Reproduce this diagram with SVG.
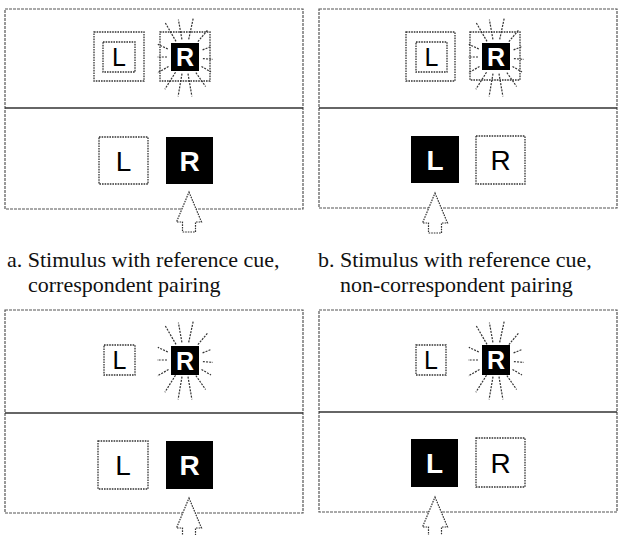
<svg xmlns="http://www.w3.org/2000/svg" xmlns:xlink="http://www.w3.org/1999/xlink" width="618" height="535" viewBox="0 0 618 535">
  <style>
    .frame { fill: none; stroke: #555; stroke-width: 1.2; stroke-dasharray: 3 1; }
    .divider { stroke: #333; stroke-width: 1.6; }
    .dotbox { fill: #fff; stroke: #333; stroke-width: 1.3; stroke-dasharray: 1.6 1; }
    .solid { fill: #000; }
    .ray { stroke: #333; stroke-width: 1.2; stroke-dasharray: 2 1.2; fill: none; }
    .arrow { fill: #fff; stroke: #333; stroke-width: 1.2; stroke-dasharray: 1.6 1; }
    .dark { font-family: "Liberation Sans", Arial, sans-serif; fill: #000; text-anchor: middle; }
    .light { font-family: "Liberation Sans", Arial, sans-serif; fill: #fff; font-weight: bold; text-anchor: middle; }
    .caption { font-family: "Liberation Serif", "Times New Roman", serif; font-size: 22px; fill: #111; }
  </style>
  <defs>
    <!-- radiating flash lines around the cued letter, centred on 0,0 -->
    <g id="burst" class="ray">
      <line x1="-9" y1="-15.6" x2="-20" y2="-34.6"/>
      <line x1="-3.1" y1="-17.7" x2="-6.6" y2="-37.4"/>
      <line x1="3.7" y1="-17.6" x2="8.3" y2="-39.1"/>
      <line x1="12.9" y1="-15.3" x2="23.1" y2="-27.6"/>
      <line x1="17.6" y1="-7.1" x2="26" y2="-10.5"/>
      <line x1="17.9" y1="1.6" x2="27.9" y2="2.4"/>
      <line x1="16.5" y1="9.5" x2="26" y2="15"/>
      <line x1="10.9" y1="15.6" x2="20.6" y2="29.5"/>
      <line x1="3" y1="16.7" x2="6.9" y2="39.4"/>
      <line x1="-3" y1="16.7" x2="-6.9" y2="39.4"/>
      <line x1="-9.5" y1="15.3" x2="-20.1" y2="32.2"/>
      <line x1="-16.5" y1="9.5" x2="-27.7" y2="16"/>
      <line x1="-18" y1="0" x2="-28" y2="0"/>
      <line x1="-17.2" y1="-8" x2="-27.2" y2="-12.7"/>
    </g>
    <!-- pointer arrow, tip at 0,0 -->
    <polygon id="pointer" class="arrow" points="0,0 12.5,30 6.5,30 6.5,40 -6.5,40 -6.5,30 -12.5,30"/>
  </defs>

  <!-- frames -->
  <g id="connectors">
    <rect class="frame" x="5" y="9" width="298" height="200"/>
    <line class="divider" x1="5" y1="108" x2="303" y2="108"/>
    <rect class="frame" x="319" y="9" width="298" height="199"/>
    <line class="divider" x1="319" y1="108" x2="617" y2="108"/>
    <rect class="frame" x="5" y="310" width="298" height="203"/>
    <line class="divider" x1="5" y1="413" x2="303" y2="413"/>
    <rect class="frame" x="319" y="310" width="298" height="202"/>
    <line class="divider" x1="319" y1="412" x2="617" y2="412"/>
  </g>

  <!-- panel a -->
  <g id="panel-a">
    <g id="a-cue-L">
      <rect class="dotbox" x="94" y="32" width="50" height="49"/>
      <rect class="dotbox" x="103" y="42" width="32" height="30"/>
      <text class="dark" x="119" y="66" font-size="25">L</text>
    </g>
    <g id="a-cue-R">
      <rect class="dotbox" x="160" y="32" width="50" height="49"/>
      <use xlink:href="#burst" x="185" y="57"/>
      <rect class="solid" x="171" y="43" width="28" height="28"/>
      <text class="light" x="185" y="66" font-size="25">R</text>
    </g>
    <g id="a-stim-L">
      <rect class="dotbox" x="99" y="137" width="49" height="47"/>
      <text class="dark" x="123.5" y="170.5" font-size="28">L</text>
    </g>
    <g id="a-stim-R">
      <rect class="solid" x="166" y="137" width="47" height="47"/>
      <text class="light" x="189.5" y="170.5" font-size="28">R</text>
    </g>
    <use id="a-arrow" xlink:href="#pointer" x="189" y="192"/>
  </g>

  <!-- panel b -->
  <g id="panel-b">
    <g id="b-cue-L">
      <rect class="dotbox" x="406" y="32" width="49" height="49"/>
      <rect class="dotbox" x="416" y="42" width="31" height="30"/>
      <text class="dark" x="431.5" y="66" font-size="25">L</text>
    </g>
    <g id="b-cue-R">
      <rect class="dotbox" x="470" y="32" width="50" height="48"/>
      <use xlink:href="#burst" x="496" y="57"/>
      <rect class="solid" x="482" y="43" width="28" height="27"/>
      <text class="light" x="496" y="65.5" font-size="25">R</text>
    </g>
    <g id="b-stim-L">
      <rect class="solid" x="411" y="136" width="48" height="47"/>
      <text class="light" x="435" y="169.5" font-size="28">L</text>
    </g>
    <g id="b-stim-R">
      <rect class="dotbox" x="476" y="136" width="49" height="48"/>
      <text class="dark" x="500.5" y="170" font-size="28">R</text>
    </g>
    <use id="b-arrow" xlink:href="#pointer" x="435" y="193"/>
  </g>

  <!-- captions -->
  <g id="caption-a" class="caption">
    <text x="7" y="267">a. Stimulus with reference cue,</text>
    <text x="28" y="292">correspondent pairing</text>
  </g>
  <g id="caption-b" class="caption">
    <text x="318" y="267">b. Stimulus with reference cue,</text>
    <text x="340" y="292">non-correspondent pairing</text>
  </g>

  <!-- panel c -->
  <g id="panel-c">
    <g id="c-cue-L">
      <rect class="dotbox" x="104" y="345" width="31" height="30"/>
      <text class="dark" x="119.5" y="369" font-size="25">L</text>
    </g>
    <g id="c-cue-R">
      <use xlink:href="#burst" x="185" y="360"/>
      <rect class="solid" x="171" y="346" width="28" height="29"/>
      <text class="light" x="185" y="369.5" font-size="25">R</text>
    </g>
    <g id="c-stim-L">
      <rect class="dotbox" x="98" y="441" width="50" height="48"/>
      <text class="dark" x="123" y="475" font-size="28">L</text>
    </g>
    <g id="c-stim-R">
      <rect class="solid" x="166" y="441" width="47" height="48"/>
      <text class="light" x="189.5" y="475" font-size="28">R</text>
    </g>
    <use id="c-arrow" xlink:href="#pointer" x="189" y="498"/>
  </g>

  <!-- panel d -->
  <g id="panel-d">
    <g id="d-cue-L">
      <rect class="dotbox" x="416" y="345" width="30" height="30"/>
      <text class="dark" x="431" y="369" font-size="25">L</text>
    </g>
    <g id="d-cue-R">
      <use xlink:href="#burst" x="496" y="360"/>
      <rect class="solid" x="482" y="345" width="28" height="30"/>
      <text class="light" x="496" y="369" font-size="25">R</text>
    </g>
    <g id="d-stim-L">
      <rect class="solid" x="411" y="439" width="47" height="48"/>
      <text class="light" x="434.5" y="473" font-size="28">L</text>
    </g>
    <g id="d-stim-R">
      <rect class="dotbox" x="476" y="438" width="49" height="49"/>
      <text class="dark" x="500.5" y="472.5" font-size="28">R</text>
    </g>
    <use id="d-arrow" xlink:href="#pointer" x="435" y="497"/>
  </g>
</svg>
